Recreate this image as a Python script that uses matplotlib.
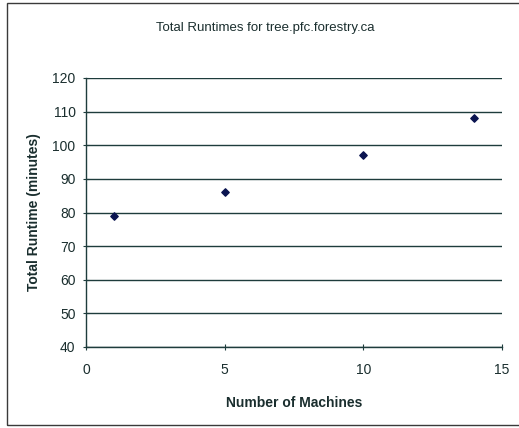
import matplotlib
matplotlib.use("Agg")
import matplotlib.pyplot as plt
from matplotlib.patches import Rectangle

machines = [1, 5, 10, 14]
runtimes = [79, 86, 97, 108]
x_ticks = [0, 5, 10, 15]
y_ticks = [40, 50, 60, 70, 80, 90, 100, 110, 120]

plt.rcParams['font.family'] = ['Liberation Sans', 'DejaVu Sans']
line_col = '#1e3c3c'
text_col = '#1a2e2e'

fig = plt.figure(figsize=(5.19, 4.28), dpi=100)
fig.patches.append(Rectangle((7/519, 3/428), 1.2, 422/428, transform=fig.transFigure,
                             fill=False, edgecolor='#3a3a3a', linewidth=1.0))

ax = fig.add_axes([86/519, 1-347/428, 416/519, 269/428])
ax.scatter(machines, runtimes, marker='D', s=14, color='#0a1450', zorder=3)
ax.set_xlim(0, 15)
ax.set_ylim(40, 120)
ax.set_xticks(x_ticks)
ax.set_yticks(y_ticks)
ax.yaxis.grid(True, color=line_col, linewidth=1.0)
ax.set_axisbelow(True)
for s in ['top', 'right']:
    ax.spines[s].set_visible(False)
for s in ['left', 'bottom']:
    ax.spines[s].set_color(line_col)
    ax.spines[s].set_linewidth(1.0)
ax.tick_params(direction='inout', length=5, colors=line_col, labelcolor=text_col, labelsize=10)
ax.tick_params(axis='x', pad=9)
ax.tick_params(axis='y', pad=5)

ax.set_xlabel('Number of Machines', fontsize=10, fontweight='bold', color=text_col, labelpad=14)
ax.set_ylabel('Total Runtime (minutes)', fontsize=10, fontweight='bold', color=text_col, labelpad=8)
fig.text(265/519, 1-28/428, 'Total Runtimes for tree.pfc.forestry.ca', ha='center', va='center',
         fontsize=9.5, color=text_col)

fig.savefig('out.png', dpi=100, facecolor='white')
